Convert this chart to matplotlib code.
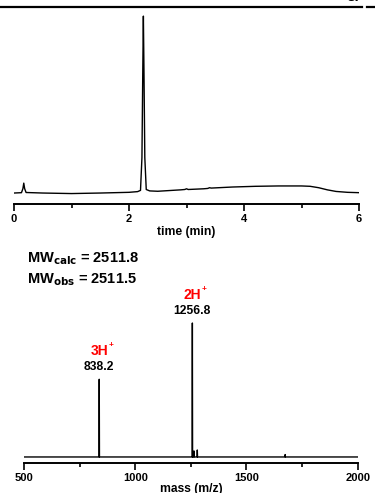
import numpy as np
import matplotlib
matplotlib.use("Agg")
import matplotlib.pyplot as plt
from matplotlib.lines import Line2D

plt.rcParams['font.family'] = ['Liberation Sans', 'DejaVu Sans']
plt.rcParams['font.weight'] = 'bold'

# --- HPLC trace (time in min, absorbance in % of main peak) ---
hplc_time = [0.00, 0.13, 0.155, 0.17, 0.185, 0.21, 0.5, 1.0, 1.5, 2.0, 2.15,
             2.20, 2.225, 2.24, 2.25, 2.26, 2.275, 2.30, 2.36, 2.5, 2.9,
             2.97, 3.0, 3.03, 3.3, 3.37, 3.4, 3.43, 3.8, 4.2, 4.6, 5.0,
             5.15, 5.3, 5.45, 5.6, 5.8, 6.0]
hplc_abs = [0.0, 0.2, 2.5, 5.6, 2.5, 0.3, 0.0, -0.3, 0.0, 0.4, 0.8,
            1.5, 20.0, 70.0, 100.0, 70.0, 20.0, 2.0, 1.2, 1.0, 1.8,
            2.0, 2.4, 2.0, 2.4, 2.6, 3.0, 2.8, 3.4, 3.8, 4.0, 4.0,
            3.8, 3.0, 1.8, 0.9, 0.4, 0.2]

# --- Mass spectrum (m/z, relative intensity) ---
ms_mz = [838.2, 1256.8, 1264.0, 1279.0, 1674.0]
ms_int = [58.0, 100.0, 4.5, 5.2, 1.8]
ms_labels = {838.2: ("3H", "838.2"), 1256.8: ("2H", "1256.8")}

mw_calc = 2511.8
mw_obs = 2511.5

fig = plt.figure(figsize=(3.75, 4.93), dpi=100)
W, H = 375.0, 493.0

# top table border + cut-off caption
fig.add_artist(Line2D([0, 362 / W], [1 - 7 / H, 1 - 7 / H], color='black', lw=1.6))
fig.add_artist(Line2D([367 / W, 1], [1 - 6.5 / H, 1 - 6.5 / H], color='black', lw=1.6))
fig.text(361 / W, 1 + 1.5 / H, "g)", ha='right', va='baseline', fontsize=11)

# ---- HPLC panel ----
ax1 = fig.add_axes([14 / W, 1 - 204 / H, 345 / W, 190 / H])
ax1.plot(hplc_time, hplc_abs, color='black', lw=1.0)
ax1.set_xlim(0, 6)
ax1.set_ylim(-6.2, 101.2)
for s in ['top', 'right', 'left']:
    ax1.spines[s].set_visible(False)
ax1.spines['bottom'].set_linewidth(1.4)
ax1.set_yticks([])
ax1.set_xticks([0, 2, 4, 6])
ax1.set_xticks([1, 3, 5], minor=True)
ax1.tick_params(axis='x', which='major', direction='out', length=5, width=1.2,
                labelsize=8, pad=2)
ax1.tick_params(axis='x', which='minor', direction='out', length=3, width=1.2)
ax1.set_xlabel("time (min)", fontsize=8.7, fontweight='bold', labelpad=2)

# ---- MS panel ----
ax2 = fig.add_axes([24 / W, 1 - 463 / H, 333.7 / W, 213 / H])
mz_line = [500.0]
int_line = [0.0]
for mz, it in zip(ms_mz, ms_int):
    mz_line += [mz - 1.0, mz, mz + 1.0]
    int_line += [0.0, it, 0.0]
mz_line.append(2000.0)
int_line.append(0.0)
ax2.plot(mz_line, int_line, color='black', lw=1.0)
ax2.set_xlim(500, 2000)
ax2.set_ylim(-4.5, 154.5)
for s in ['top', 'right', 'left']:
    ax2.spines[s].set_visible(False)
ax2.spines['bottom'].set_linewidth(1.4)
ax2.set_yticks([])
ax2.set_xticks([500, 1000, 1500, 2000])
ax2.set_xticks([750, 1250, 1750], minor=True)
ax2.tick_params(axis='x', which='major', direction='out', length=5, width=1.2,
                labelsize=8, pad=2)
ax2.tick_params(axis='x', which='minor', direction='out', length=3, width=1.2)
ax2.set_xlabel("mass (m/z)", fontsize=8.7, fontweight='bold', labelpad=0)

for mz, (ion, val) in ms_labels.items():
    it = ms_int[ms_mz.index(mz)]
    ax2.text(mz, it + 9, val, ha='center', va='center', fontsize=8.7)
    t = ax2.text(mz, it + 21, ion, ha='center', va='center', fontsize=10,
                 color='#ff0000')
    ax2.annotate("+", xy=(1, 1), xycoords=t, xytext=(0.3, 1.5),
                 textcoords='offset points', ha='left', va='top',
                 fontsize=6, color='#ff0000')

fig.text(27 / W, 1 - 262 / H, "MW$_{\\mathbf{calc}}$ = %.1f" % mw_calc,
         ha='left', va='baseline', fontsize=10.5)
fig.text(27 / W, 1 - 283 / H, "MW$_{\\mathbf{obs}}$ = %.1f" % mw_obs,
         ha='left', va='baseline', fontsize=10.5)

fig.savefig("out.png", dpi=100)
